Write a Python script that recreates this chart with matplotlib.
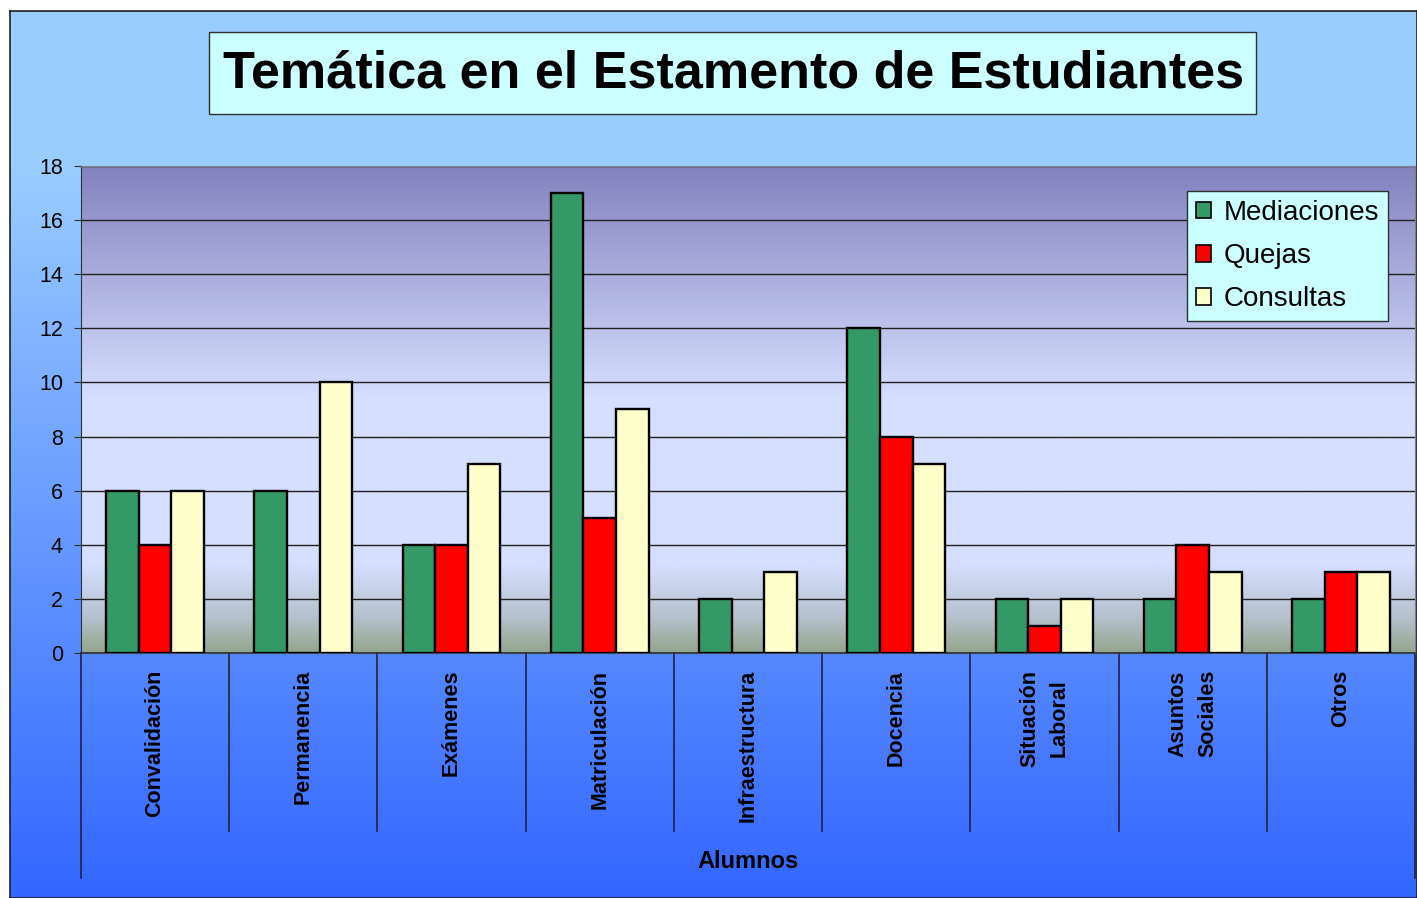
import numpy as np
import matplotlib
matplotlib.use("Agg")
import matplotlib.pyplot as plt
from matplotlib.colors import LinearSegmentedColormap
from matplotlib.patches import Rectangle

plt.rcParams["font.family"] = ["Liberation Sans", "DejaVu Sans"]

categories = ["Convalidación", "Permanencia", "Exámenes", "Matriculación",
              "Infraestructura", "Docencia", "Situación\nLaboral",
              "Asuntos\nSociales", "Otros"]
mediaciones = [6, 6, 4, 17, 2, 12, 2, 2, 2]
quejas = [4, 0, 4, 5, 0, 8, 1, 4, 3]
consultas = [6, 10, 7, 9, 3, 7, 2, 3, 3]
series_names = ["Mediaciones", "Quejas", "Consultas"]
group_label = "Alumnos"
title = "Temática en el Estamento de Estudiantes"

W, H = 1417, 898
fig = plt.figure(figsize=(W / 100, H / 100), dpi=100, facecolor="white")

# figure background gradient with outer border
bg = fig.add_axes([10 / W, 0, 1 - 10 / W, 1 - 11 / H], zorder=-5)
bg_cmap = LinearSegmentedColormap.from_list(
    "bg", [(0, "#3366FF"), (0.82, "#99CCFF"), (1, "#99CCFF")])
grad = np.linspace(0, 1, 256).reshape(-1, 1)
bg.imshow(grad, aspect="auto", cmap=bg_cmap, origin="lower",
          extent=[0, 1, 0, 1])
bg.set_xticks([])
bg.set_yticks([])
for s in bg.spines.values():
    s.set_color("#202020")
    s.set_linewidth(1.2)

# title box
fig.patches.append(Rectangle((209 / W, 1 - 114 / H), (1256 - 209) / W, (114 - 32) / H,
                             transform=fig.transFigure, facecolor="#CCFFFF",
                             edgecolor="#303030", linewidth=1, zorder=1))
fig.text(734 / W, 1 - 74 / H, title, ha="center", va="center",
         fontsize=37.5, fontweight="bold", zorder=2)

# plot area
left, right, top, bottom = 81, 1415, 166, 653
ax = fig.add_axes([left / W, 1 - bottom / H, (right - left) / W, (bottom - top) / H])
ax.patch.set_alpha(0)

x = np.arange(len(categories))
ax.set_xlim(-0.5, len(categories) - 0.5)
ax.set_ylim(0, 18)

plot_cmap = LinearSegmentedColormap.from_list(
    "plot", [(0, "#94A68C"), (0.07, "#B4C0CC"), (0.18, "#D6DFFF"),
             (0.52, "#D6DFFF"), (1, "#8282BE")])
ax.imshow(grad, aspect="auto", cmap=plot_cmap, origin="lower",
          extent=[-0.5, len(categories) - 0.5, 0, 18], zorder=0)

ax.yaxis.grid(True, color="#202020", linewidth=1)
ax.set_axisbelow(True)

w = 0.22
colors = ["#339966", "#FF0000", "#FFFFCC"]
for k, (vals, name) in enumerate(zip([mediaciones, quejas, consultas], series_names)):
    ax.bar(x + (k - 1) * w, vals, w, color=colors[k], edgecolor="black",
           linewidth=1.7, label=name, zorder=3)

ax.set_yticks(range(0, 19, 2))
ax.tick_params(axis="y", labelsize=15.5, length=5, pad=8, color="#303030")
ax.set_xticks([])
for s in ["top", "right"]:
    ax.spines[s].set_color("#808080")
ax.spines["left"].set_color("#303030")
ax.spines["bottom"].set_color("#303030")
ax.spines["bottom"].set_linewidth(1.2)

# category labels and separators
ph = bottom - top
tr = ax.get_xaxis_transform()
for i, cat in enumerate(categories):
    ax.text(i, -17 / ph, cat, transform=tr, rotation=90, ha="center", va="top",
            fontsize=15.5, fontweight="bold", multialignment="center",
            linespacing=1.55)
for b in np.arange(0.5, len(categories) - 0.5):
    ax.plot([b, b], [0, -(831 - bottom) / ph], transform=tr, color="#202040",
            linewidth=1.2, clip_on=False)
for b in [-0.5, len(categories) - 0.5]:
    ax.plot([b, b], [0, -(878 - bottom) / ph], transform=tr, color="#202040",
            linewidth=1.2, clip_on=False)
ax.text((len(categories) - 1) / 2, -(862 - bottom) / ph, group_label, transform=tr,
        ha="center", va="center", fontsize=17, fontweight="bold")

leg = ax.legend(loc="upper right", bbox_to_anchor=(1388 / W, 1 - 191 / H),
                bbox_transform=fig.transFigure, borderaxespad=0, fontsize=20,
                frameon=True, fancybox=False, framealpha=1, facecolor="#CCFFFF",
                edgecolor="#303030", handlelength=0.55, handleheight=0.55,
                handletextpad=0.45, labelspacing=0.62, borderpad=0.32)
leg.get_frame().set_linewidth(1)
for h in leg.legend_handles:
    h.set_linewidth(1.2)

fig.savefig("out.png", dpi=100)
